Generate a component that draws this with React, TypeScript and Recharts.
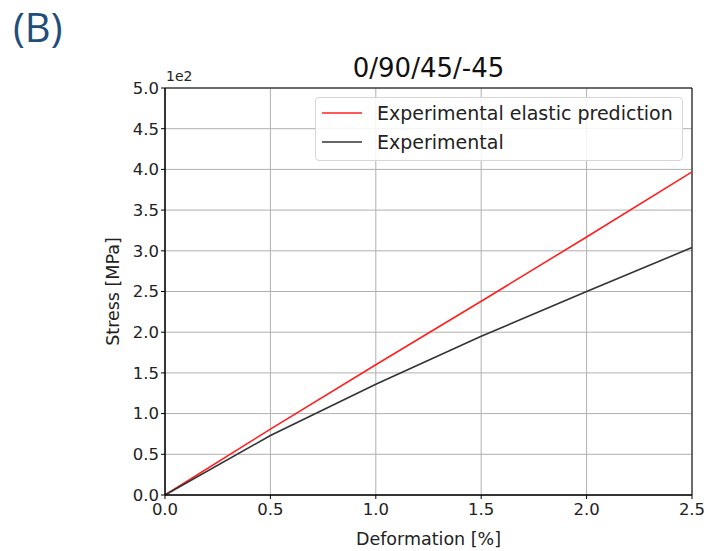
import React from "react";
import {
  LineChart,
  Line,
  XAxis,
  YAxis,
  CartesianGrid,
  ReferenceArea,
} from "recharts";

const deformation = [0, 0.5, 1.0, 1.5, 2.0, 2.5];
const elasticPrediction = [0, 81, 160, 238, 317, 397];
const experimental = [0, 73, 136, 195, 250, 304];
const xTicks = [0, 0.5, 1.0, 1.5, 2.0, 2.5];
const yTicks = [0, 50, 100, 150, 200, 250, 300, 350, 400, 450, 500];

const data = deformation.map((d, i) => ({
  x: d,
  pred: elasticPrediction[i],
  exp: experimental[i],
}));

const FONT = "'DejaVu Sans', sans-serif";

const LegendBox = () => (
  <div
    style={{
      position: "absolute",
      left: 315,
      top: 97,
      width: 368,
      height: 64,
      border: "1px solid #d6d6d6",
      borderRadius: 4,
      background: "rgba(255,255,255,0.85)",
      fontFamily: FONT,
      fontSize: 19,
      color: "#222",
      boxSizing: "border-box",
    }}
  >
    {[
      { label: "Experimental elastic prediction", color: "#ff2020", top: 4 },
      { label: "Experimental", color: "#333333", top: 33 },
    ].map((e) => (
      <div key={e.label} style={{ position: "absolute", left: 6, top: e.top, display: "flex", alignItems: "center", whiteSpace: "nowrap" }}>
        <svg width={40} height={4} style={{ marginRight: 15, display: "block" }}>
          <line x1={0} y1={2} x2={40} y2={2} stroke={e.color} strokeWidth={1.6} />
        </svg>
        <span>{e.label}</span>
      </div>
    ))}
  </div>
);

export default function App() {
  return (
    <div style={{ position: "absolute", left: 0, top: 0, width: 707, height: 551, background: "#fff" }}>
      <div
        style={{
          position: "absolute",
          left: 13,
          top: -1,
          fontFamily: "'Open Sans', sans-serif",
          fontSize: 40,
          color: "#1f4e79",
        }}
      >
        (B)
      </div>
      <div
        style={{
          position: "absolute",
          left: 165,
          width: 527,
          top: 53,
          textAlign: "center",
          fontFamily: FONT,
          fontSize: 26,
          color: "#111",
        }}
      >
        0/90/45/-45
      </div>
      <div
        style={{
          position: "absolute",
          left: 166,
          top: 68,
          fontFamily: FONT,
          fontSize: 14,
          color: "#222",
        }}
      >
        1e2
      </div>
      <LineChart
        width={707}
        height={551}
        data={data}
        margin={{ top: 88, right: 15, bottom: 0, left: 0 }}
      >
        <CartesianGrid stroke="#b0b0b0" strokeWidth={1} />
        <XAxis
          dataKey="x"
          type="number"
          domain={[0, 2.5]}
          ticks={xTicks}
          tickFormatter={(v: number) => v.toFixed(1)}
          height={56}
          axisLine={{ stroke: "#000" }}
          tickLine={{ stroke: "#000" }}
          tickSize={4}
          tickMargin={4}
          tick={{ fill: "#222", fontFamily: FONT, fontSize: 16.5 }}
          label={{ value: "Deformation [%]", position: "insideBottom", offset: 6, fill: "#222", fontFamily: FONT, fontSize: 17.5 }}
        />
        <YAxis
          type="number"
          domain={[0, 500]}
          ticks={yTicks}
          tickFormatter={(v: number) => (v / 100).toFixed(1)}
          width={165}
          axisLine={{ stroke: "#000" }}
          tickLine={{ stroke: "#000" }}
          tickSize={4}
          tick={{ fill: "#222", fontFamily: FONT, fontSize: 16.5 }}
          label={{ value: "Stress [MPa]", angle: -90, position: "insideRight", offset: 52, fill: "#222", fontFamily: FONT, fontSize: 17.5, style: { textAnchor: "middle" } }}
        />
        <ReferenceArea x1={0} x2={2.5} y1={0} y2={500} fill="none" stroke="#000" strokeWidth={1} />
        <Line dataKey="pred" stroke="#ff2020" strokeWidth={1.6} dot={false} isAnimationActive={false} />
        <Line dataKey="exp" stroke="#333333" strokeWidth={1.6} dot={false} isAnimationActive={false} />
      </LineChart>
      <LegendBox />
    </div>
  );
}
